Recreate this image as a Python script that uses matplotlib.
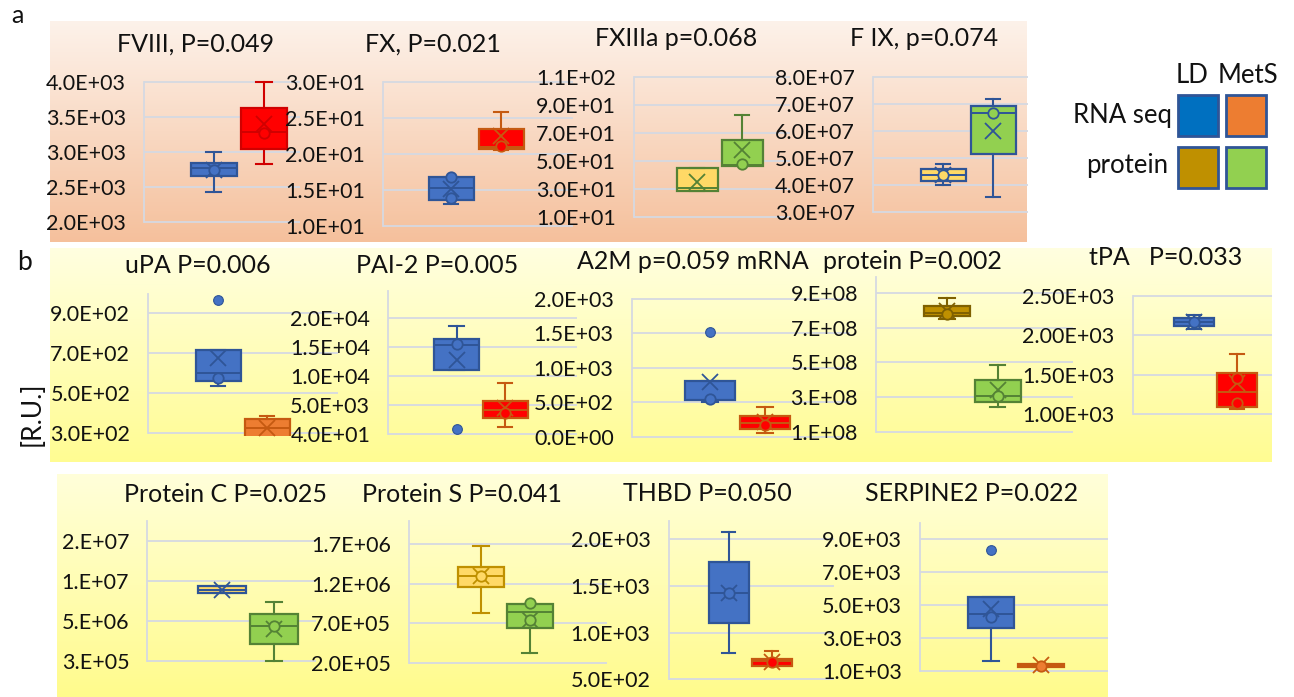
import numpy as np
import matplotlib
matplotlib.use("Agg")
import matplotlib.pyplot as plt
from matplotlib.patches import Rectangle

W, H = 1294, 697
plt.rcParams["font.family"] = ["Lato", "DejaVu Sans"]

# ---- data: each box is [whisker low, q1, median, q3, whisker high, mean] ----
FVIII_TICKS = [4000, 3500, 3000, 2500, 2000]
FVIII_LABELS = ["4.0E+03", "3.5E+03", "3.0E+03", "2.5E+03", "2.0E+03"]
FVIII = ([2425, 2659, 2769, 2840, 2998, 2745], [2826, 3045, 3284, 3637, 4000, 3403])
FVIII_PTS = ([2750], [3270])
FVIII_OUT = ([], [])

FX_TICKS = [30, 25, 20, 15, 10]
FX_LABELS = ["3.0E+01", "2.5E+01", "2.0E+01", "1.5E+01", "1.0E+01"]
FX = ([13.0, 13.5, 15.2, 16.7, 16.7, 15.1], [20.5, 20.7, 20.9, 23.4, 25.8, 22.5])
FX_PTS = ([16.8, 13.8], [21.1])
FX_OUT = ([], [])

FXIII_TICKS = [110, 90, 70, 50, 30, 10]
FXIII_LABELS = ["1.1E+02", "9.0E+01", "7.0E+01", "5.0E+01", "3.0E+01", "1.0E+01"]
FXIII = ([28.8, 28.8, 31.1, 45.4, 45.4, 35.3], [46.9, 46.9, 47.5, 65.2, 83.1, 58.4])
FXIII_PTS = ([], [47.9])
FXIII_OUT = ([], [])

FIX_TICKS = [8e7, 7e7, 6e7, 5e7, 4e7, 3e7]
FIX_LABELS = ["8.0E+07", "7.0E+07", "6.0E+07", "5.0E+07", "4.0E+07", "3.0E+07"]
FIX = ([3.99e7, 4.14e7, 4.36e7, 4.59e7, 4.78e7, 4.36e7], [3.56e7, 5.13e7, 6.69e7, 6.93e7, 7.19e7, 6.01e7])
FIX_PTS = ([4.36e7], [6.69e7])
FIX_OUT = ([], [])

UPA_TICKS = [900, 700, 500, 300]
UPA_LABELS = ["9.0E+02", "7.0E+02", "5.0E+02", "3.0E+02"]
UPA = ([536, 561, 602, 714, 714, 674], [250, 270, 325, 369, 382, 324])
UPA_PTS = ([573], [])
UPA_OUT = ([967], [])

PAI2_TICKS = [20040, 15040, 10040, 5040, 40]
PAI2_LABELS = ["2.0E+04", "1.5E+04", "1.0E+04", "5.0E+03", "4.0E+01"]
PAI2 = ([11100, 11100, 15400, 16400, 18700, 12800], [1300, 2900, 4300, 5800, 8900, 4500])
PAI2_PTS = ([15600], [3700])
PAI2_OUT = ([900], [])

A2M_TICKS = [2000, 1500, 1000, 500, 0]
A2M_LABELS = ["2.0E+03", "1.5E+03", "1.0E+03", "5.0E+02", "0.0E+00"]
A2M = ([505, 533, 540, 813, 813, 790], [49, 108, 195, 306, 436, 220])
A2M_PTS = ([550], [170])
A2M_OUT = ([1525], [])

A2MP_TICKS = [9e8, 7e8, 5e8, 3e8, 1e8]
A2MP_LABELS = ["9.E+08", "7.E+08", "5.E+08", "3.E+08", "1.E+08"]
A2MP = ([7.51e8, 7.69e8, 7.88e8, 8.28e8, 8.75e8, 8.0e8], [2.41e8, 2.73e8, 3.06e8, 3.99e8, 4.84e8, 3.4e8])
A2MP_PTS = ([7.8e8], [3.07e8])
A2MP_OUT = ([], [])

TPA_TICKS = [2500, 2000, 1500, 1000]
TPA_LABELS = ["2.50E+03", "2.00E+03", "1.50E+03", "1.00E+03"]
TPA = ([2078, 2120, 2172, 2225, 2264, 2170], [1062, 1096, 1287, 1527, 1764, 1400])
TPA_PTS = ([2172], [1464, 1138])
TPA_OUT = ([], [])

PROC_TICKS = [1.53e7, 1.03e7, 5.3e6, 3e5]
PROC_LABELS = ["2.E+07", "1.E+07", "5.E+06", "3.E+05"]
PROC = ([8.75e6, 8.75e6, 9.16e6, 9.62e6, 9.62e6, 9.16e6], [0.3e6, 2.39e6, 4.65e6, 6.11e6, 7.66e6, 4.23e6])
PROC_PTS = ([], [4.65e6])
PROC_OUT = ([], [])

PROS_TICKS = [1.7e6, 1.2e6, 7e5, 2e5]
PROS_LABELS = ["1.7E+06", "1.2E+06", "7.0E+05", "2.0E+05"]
PROS = ([0.825e6, 1.161e6, 1.296e6, 1.414e6, 1.675e6, 1.296e6], [0.328e6, 0.636e6, 0.838e6, 0.942e6, 0.942e6, 0.74e6])
PROS_PTS = ([1.296e6], [0.96e6, 0.74e6])
PROS_OUT = ([], [])

THBD_TICKS = [2000, 1500, 1000, 500]
THBD_LABELS = ["2.0E+03", "1.5E+03", "1.0E+03", "5.0E+02"]
THBD = ([784, 1100, 1429, 1757, 2081, 1429], [640, 643, 693, 718, 807, 686])
THBD_PTS = ([1429], [680])
THBD_OUT = ([], [])

SERP_TICKS = [9000, 7000, 5000, 3000, 1000]
SERP_LABELS = ["9.0E+03", "7.0E+03", "5.0E+03", "3.0E+03", "1.0E+03"]
SERP = ([1606, 3588, 4436, 5503, 5503, 4740], [1224, 1224, 1320, 1424, 1424, 1340])
SERP_PTS = ([4300], [1320])
SERP_OUT = ([8333], [])

# ---- colours ----
BLUE, BLUE_E = "#4472C4", "#2F5597"
RED, RED_E = "#FF0000", "#C55A11"
ORANGE, ORANGE_E = "#ED7D31", "#C55A11"
YEL = "#FFD966"
GREEN, GREEN_E = "#92D050", "#548235"
GOLD, GOLD_E = "#BF9000", "#7F6000"
GRID = "#D5D9E2"
TXT = "#111111"

# ---- layout (pixels): axis x, right edge, top tick y, bottom tick y, axis top, clip bottom,
#      box centres, box width ----
PANELS = [
    ("FVIII", FVIII_TICKS, FVIII_LABELS, FVIII, FVIII_PTS, FVIII_OUT,
     (BLUE, BLUE_E, RED, "#D00000"), (144.3, 300, 82.3, 222, 82.3, None, 213.7, 264, 46)),
    ("FX", FX_TICKS, FX_LABELS, FX, FX_PTS, FX_OUT,
     (BLUE, BLUE_E, RED, RED_E), (383.3, 573, 81.7, 225.7, 81.7, None, 451, 501, 45)),
    ("FXIII", FXIII_TICKS, FXIII_LABELS, FXIII, FXIII_PTS, FXIII_OUT,
     (YEL, GREEN_E, GREEN, GREEN_E), (634, 790, 77.3, 217.3, 77.3, None, 697, 742, 41)),
    ("FIX", FIX_TICKS, FIX_LABELS, FIX, FIX_PTS, FIX_OUT,
     (YEL, BLUE_E, GREEN, BLUE_E), (872.7, 1028, 77.3, 211.7, 77.3, None, 943, 993, 45)),
    ("uPA", UPA_TICKS, UPA_LABELS, UPA, UPA_PTS, UPA_OUT,
     (BLUE, BLUE_E, ORANGE, ORANGE_E), (148.3, 338, 313.3, 432.7, 294.3, 436, 218, 267, 45)),
    ("PAI2", PAI2_TICKS, PAI2_LABELS, PAI2, PAI2_PTS, PAI2_OUT,
     (BLUE, BLUE_E, RED, RED_E), (388.3, 577, 318.3, 434.3, 291, None, 456.5, 505, 45)),
    ("A2M", A2M_TICKS, A2M_LABELS, A2M, A2M_PTS, A2M_OUT,
     (BLUE, BLUE_E, RED, RED_E), (631.7, 850, 299, 436.7, 299, None, 710, 765, 50)),
    ("A2MP", A2MP_TICKS, A2MP_LABELS, A2MP, A2MP_PTS, A2MP_OUT,
     (GOLD, GOLD_E, GREEN, GREEN_E), (876, 1073, 293.3, 431.7, 276.7, None, 947, 997.5, 46)),
    ("tPA", TPA_TICKS, TPA_LABELS, TPA, TPA_PTS, TPA_OUT,
     (BLUE, BLUE_E, RED, RED_E), (1132.7, 1272, 296, 414.3, 296, None, 1194, 1237, 40)),
    ("ProC", PROC_TICKS, PROC_LABELS, PROC, PROC_PTS, PROC_OUT,
     (YEL, BLUE_E, GREEN, GREEN_E), (147.3, 316, 541, 660.7, 520.7, None, 221.7, 274.3, 48)),
    ("ProS", PROS_TICKS, PROS_LABELS, PROS, PROS_PTS, PROS_OUT,
     (YEL, GOLD, GREEN, GREEN_E), (409.3, 607, 544, 662.7, 520.7, None, 481, 529.6, 46)),
    ("THBD", THBD_TICKS, THBD_LABELS, THBD, THBD_PTS, THBD_OUT,
     (BLUE, BLUE_E, RED, RED_E), (668.6, 834, 539.3, 679.3, 521, None, 728.6, 771.7, 40)),
    ("SERP", SERP_TICKS, SERP_LABELS, SERP, SERP_PTS, SERP_OUT,
     (BLUE, BLUE_E, ORANGE, ORANGE_E), (920, 1108, 539, 671, 522.7, None, 991, 1040.7, 46)),
]

TITLES = [
    ("FVIII, P=0.049", 196, 51.5, "center"), ("FX, P=0.021", 433, 51.5, "center"),
    ("FXIIIa p=0.068", 676, 46.5, "center"), ("F IX, p=0.074", 924, 46.5, "center"),
    ("uPA P=0.006", 198, 273, "center"), ("PAI-2 P=0.005", 437, 273, "center"),
    ("A2M p=0.059 mRNA", 577, 269, "left"), ("protein P=0.002", 823, 269, "left"),
    ("tPA   P=0.033", 1166, 265, "center"),
    ("Protein C P=0.025", 226, 501.5, "center"), ("Protein S P=0.041", 462, 501.5, "center"),
    ("THBD P=0.050", 707, 501, "center"), ("SERPINE2 P=0.022", 972, 501, "center"),
]


def gradient(ax, x0, x1, y0, y1, top, bottom):
    t = np.linspace(0, 1, 256)[:, None, None]
    img = (1 - t) * np.array(top)[None, None, :] + t * np.array(bottom)[None, None, :]
    img = np.repeat(img, 2, axis=1) / 255.0
    ax.imshow(img, extent=(x0, x1, y1, y0), aspect="auto", interpolation="bilinear", zorder=0)


def draw_panel(fig, ticks, labels, boxes, pts, outs, cols, lay):
    ax_x, right, p_top, p_bot, ax_top, clip_bot, c1, c2, bw = lay
    slope = (ticks[-1] - ticks[0]) / (p_bot - p_top)
    val = lambda y: ticks[0] + (y - p_top) * slope
    top_px = ax_top - 10
    bot_px = clip_bot if clip_bot else p_bot + 10
    ax = fig.add_axes([ax_x / W, 1 - bot_px / H, (right - ax_x) / W, (bot_px - top_px) / H])
    ax.patch.set_alpha(0)
    ax.set_ylim(val(bot_px), val(top_px))
    unit = c2 - c1
    ax.set_xlim(1 - (c1 - ax_x) / unit, 2 + (right - c2) / unit)
    ax.set_xticks([])
    ax.set_yticks(ticks)
    ax.set_yticklabels(labels)
    ax.tick_params(axis="y", length=0, pad=13, labelsize=15.5, labelcolor=TXT)
    ax.grid(axis="y", color=GRID, linewidth=1.3)
    ax.set_axisbelow(True)
    for s in ("top", "right", "bottom"):
        ax.spines[s].set_visible(False)
    ax.spines["left"].set_color(GRID)
    ax.spines["left"].set_linewidth(1.3)
    ax.spines["left"].set_bounds(ticks[-1], val(ax_top))
    w = bw / unit
    for i, pos in enumerate((1, 2)):
        face, edge = cols[2 * i], cols[2 * i + 1]
        st = boxes[i]
        stats = [dict(whislo=st[0], q1=st[1], med=st[2], q3=st[3], whishi=st[4],
                      mean=st[5], fliers=outs[i])]
        ax.bxp(stats, positions=[pos], widths=w, capwidths=w * 0.33, patch_artist=True,
               showmeans=True, showfliers=True, manage_ticks=False,
               boxprops=dict(facecolor=face, edgecolor=edge, linewidth=1.6),
               medianprops=dict(color=edge, linewidth=1.4),
               whiskerprops=dict(color=edge, linewidth=1.5),
               capprops=dict(color=edge, linewidth=1.5),
               meanprops=dict(marker="x", markeredgecolor=edge, markersize=12,
                              markeredgewidth=1.3),
               flierprops=dict(marker="o", markerfacecolor=face, markeredgecolor=edge,
                               markersize=7, markeredgewidth=0.8))
        if pts[i]:
            ax.plot([pos] * len(pts[i]), pts[i], "o", mfc=face, mec=edge, ms=7.5,
                    mew=1.3, zorder=4)
    return ax


fig = plt.figure(figsize=(W / 100, H / 100), dpi=100)
bg = fig.add_axes([0, 0, 1, 1])
gradient(bg, 50, 1027, 21, 242, (253, 242, 234), (245, 192, 156))
gradient(bg, 50, 1272, 248, 462, (255, 255, 224), (255, 252, 146))
gradient(bg, 57, 1108, 474, 697, (255, 255, 218), (255, 251, 140))
bg.set_xlim(0, W)
bg.set_ylim(H, 0)
bg.axis("off")

for text, x, y, ha in TITLES:
    bg.text(x, y, text, ha=ha, va="baseline", fontsize=18, color=TXT)
bg.text(11, 23, "a", ha="left", va="baseline", fontsize=18, color=TXT)
bg.text(17, 270, "b", ha="left", va="baseline", fontsize=19, color=TXT)
bg.text(32, 414, "[R.U.]", rotation=90, ha="center", va="center", fontsize=19, color=TXT)

# legend
bg.text(1192, 83, "LD", ha="center", va="baseline", fontsize=18.5, color=TXT)
bg.text(1248, 83, "MetS", ha="center", va="baseline", fontsize=18.5, color=TXT)
bg.text(1172, 123, "RNA seq", ha="right", va="baseline", fontsize=18.5, color=TXT)
bg.text(1168, 173, "protein", ha="right", va="baseline", fontsize=18.5, color=TXT)
for (x, y), c in zip([(1178, 95), (1226, 95), (1178, 147), (1226, 147)],
                     ["#0070C0", ORANGE, GOLD, GREEN]):
    bg.add_patch(Rectangle((x, y), 40, 41, facecolor=c, edgecolor=BLUE_E, linewidth=2))

for name, ticks, labels, boxes, pts, outs, cols, lay in PANELS:
    draw_panel(fig, ticks, labels, boxes, pts, outs, cols, lay)

fig.savefig("out.png", dpi=100)
